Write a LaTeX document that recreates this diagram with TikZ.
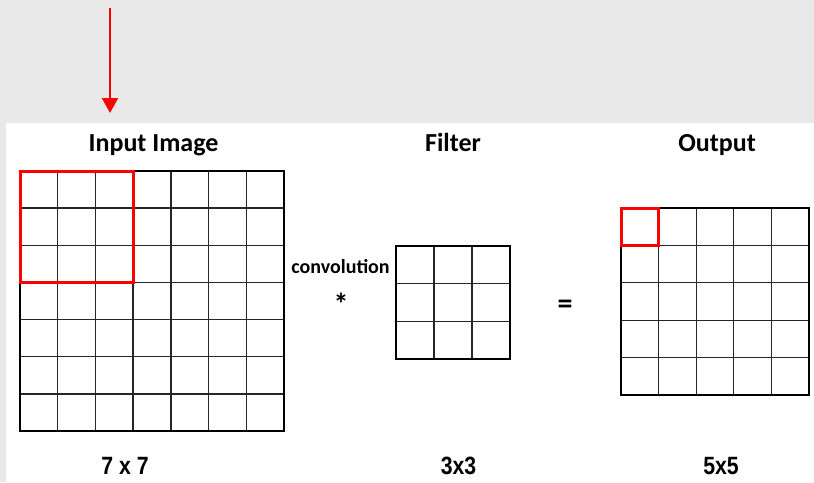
\documentclass[tikz,border=0pt]{standalone}
\usepackage{fontspec}
\setmainfont{Carlito}
\newfontfamily\narrowfont{Liberation Sans}
\usetikzlibrary{arrows.meta}
\definecolor{bggray}{HTML}{E9E9E9}
\definecolor{redline}{HTML}{FF0000}
\newcommand{\mygrid}[5]{%
  % #1 x0, #2 y0, #3 x1, #4 y1, #5 n
  \foreach \i in {1,...,\numexpr#5-1\relax}{
    \draw[innerline] ({#1+(#3-#1)*\i/#5},#2) -- ({#1+(#3-#1)*\i/#5},#4);
    \draw[innerline] (#1,{#2+(#4-#2)*\i/#5}) -- (#3,{#2+(#4-#2)*\i/#5});
  }
  \draw[outerline] (#1,#2) rectangle (#3,#4);
}
\begin{document}
\begin{tikzpicture}[x=1pt,y=-1pt,
  innerline/.style={draw=black!85,line width=1.3pt},
  outerline/.style={draw=black,line width=2pt},
  redbox/.style={draw=redline,line width=3pt},
  title/.style={font=\fontsize{26}{30}\selectfont\bfseries,inner sep=0pt,anchor=base},
  dimlabel/.style={font=\narrowfont\fontsize{25}{30}\selectfont\bfseries,inner sep=0pt,xscale=0.85,anchor=base},
  smalltext/.style={font=\fontsize{20}{24}\selectfont\bfseries,inner sep=0pt,anchor=base},
  optext/.style={font=\fontsize{30}{34}\selectfont\bfseries,inner sep=0pt}]
\useasboundingbox (0,0) rectangle (814,482);
\fill[bggray] (0,0) rectangle (814,482);
\fill[white] (6,123) rectangle (814,482);
% arrow
\coordinate (arrowstart) at (110,8);
\coordinate (arrowend) at (110,113);
\draw[redline,line width=2pt,-{Triangle[width=16pt,length=15pt]}] (arrowstart) -- (arrowend);
% titles
\node[title] (tin) at (153.5,151) {Input Image};
\node[title] (tfil) at (453,151) {Filter};
\node[title] (tout) at (717,151) {Output};
% grids
\mygrid{20}{171}{284}{431}{7}
\mygrid{396}{246}{510}{359}{3}
\mygrid{621}{208}{809}{395}{5}
\draw[redbox] (20,171) rectangle ({20+264*3/7},{171+260*3/7});
\draw[redbox] (621,208) rectangle ({621+188/5},{208+187/5});
% operators
\node[smalltext] (conv) at (340.5,273) {convolution};
\node[optext] (star) at (341,304) {*};
\node[optext] (eq) at (565,307) {=};
% dimension labels
\node[dimlabel] (d7) at (125,474) {7 x 7};
\node[dimlabel] (d3) at (458.5,474) {3x3};
\node[dimlabel] (d5) at (721,474) {5x5};
\end{tikzpicture}
\end{document}
